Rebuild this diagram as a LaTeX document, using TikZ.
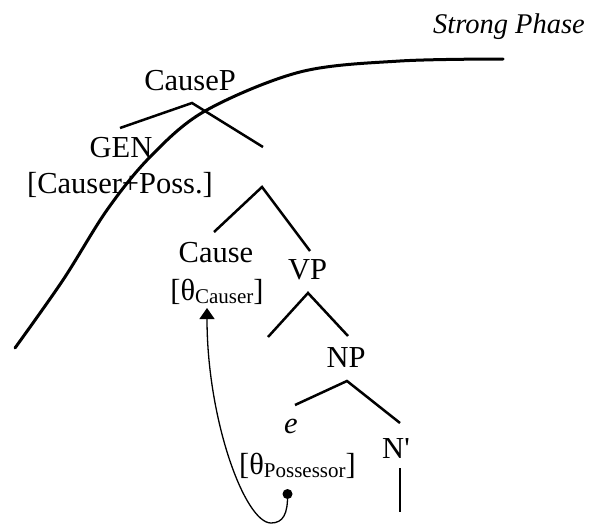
\documentclass[tikz,border=0pt]{standalone}
\usepackage{fontspec}
\setmainfont{Liberation Serif}
\usetikzlibrary{arrows.meta}
\begin{document}
\begin{tikzpicture}[x=1pt,y=-1pt,
  lbl/.style={anchor=base,inner sep=0pt,font=\fontsize{30.5}{36}\selectfont},
  phase/.style={anchor=base,inner sep=0pt,font=\fontsize{28.5}{34}\selectfont\itshape},
  branch/.style={line width=2.5pt},
  boundary/.style={line width=3pt,line cap=round},
  link/.style={line width=1.3pt,-{Triangle[width=15pt,length=11pt]}}]
\useasboundingbox (0,0) rectangle (589,525);
% phase boundary
\node[phase] (phase) at (509,33) {Strong Phase};
\draw[boundary] plot[smooth,tension=0.55] coordinates
  {(15,348) (63,280) (107,210) (150,157) (205,111) (300,72) (400,61) (503,59)};
% labels
\node[lbl] (causep) at (190,90) {CauseP};
\node[lbl] (gen) at (121,157) {GEN};
\node[lbl] (genfeat) at (120,193) {[Causer+Poss.]};
\node[lbl] (cause) at (216,262) {Cause};
\node[lbl] (causefeat) at (217,300) {[θ\raisebox{-3pt}{\fontsize{21}{24}\selectfont Causer}]};
\node[lbl] (vp) at (307.5,279) {VP};
\node[lbl] (np) at (346,367) {NP};
\node[lbl] (e) at (291,433) {\itshape e};
\node[lbl] (nbar) at (396,458) {N\textquotesingle};
\node[lbl] (possfeat) at (297.5,474) {[θ\raisebox{-3pt}{\fontsize{21}{24}\selectfont Possessor}]};
% branch points
\coordinate (c1) at (192,103);
\coordinate (c1l) at (120,128);
\coordinate (c1r) at (263,147);
\coordinate (c2) at (262,187);
\coordinate (c2l) at (214,232);
\coordinate (c2r) at (310,251);
\coordinate (v1) at (308,293);
\coordinate (v1l) at (268,337);
\coordinate (v1r) at (348,336);
\coordinate (n1) at (347,381);
\coordinate (n1l) at (295,405);
\coordinate (n1r) at (400,423);
\coordinate (nb1) at (400,468);
\coordinate (nb2) at (400,512);
\draw[branch] (c1l) -- (c1) -- (c1r);
\draw[branch] (c2l) -- (c2) -- (c2r);
\draw[branch] (v1l) -- (v1) -- (v1r);
\draw[branch] (n1l) -- (n1) -- (n1r);
\draw[branch] (nb1) -- (nb2);
% theta linking arrow
\coordinate (src) at (287.5,494);
\coordinate (low) at (271,523);
\coordinate (tgt) at (207,308);
\fill (src) circle (5);
\draw[link] (src) .. controls (288,514) and (283,523) .. (low)
  .. controls (245,523) and (207,420) .. (tgt);
\end{tikzpicture}
\end{document}
